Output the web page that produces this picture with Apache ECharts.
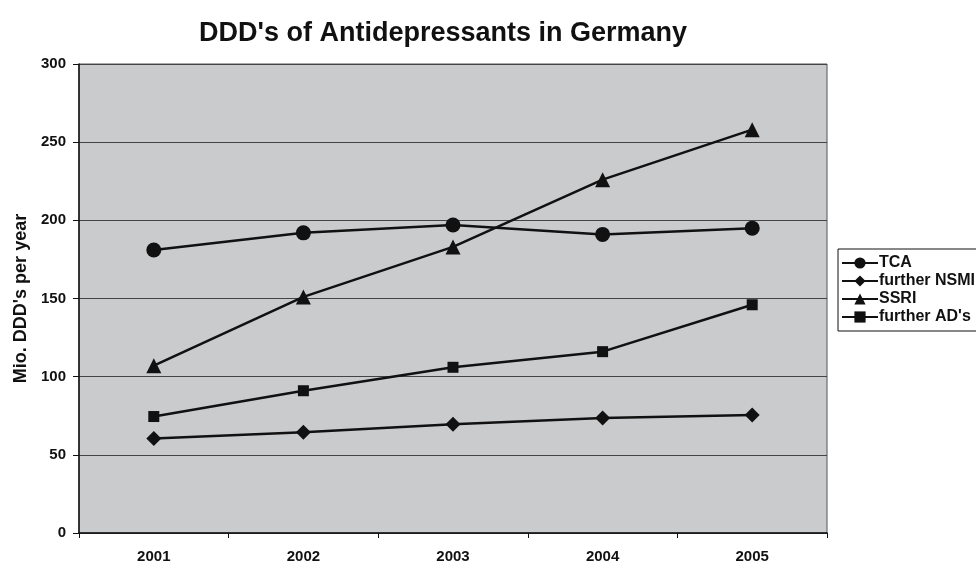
<!DOCTYPE html>
<html lang="en">
<head>
  <meta charset="UTF-8">
  <title>DDD's of Antidepressants in Germany</title>
  <script src="https://cdn.jsdelivr.net/npm/echarts@6/dist/echarts.min.js"></script>
  <style>
    html, body { margin: 0; padding: 0; background: #fff; }
    #container { width: 976px; height: 564px; }
  </style>
</head>
<body>
  <div id="container"></div>
  <script>
    const years = ['2001', '2002', '2003', '2004', '2005'];
    const tca = [181, 192, 197, 191, 195];
    const nsmi = [60.5, 64.5, 69.5, 73.5, 75.5];
    const ssri = [107, 151, 183, 226, 258];
    const furtherAD = [74.5, 91, 106, 116, 146];

    const chart = echarts.init(document.getElementById('container'));
    const font = 'Arial, "Liberation Sans", sans-serif';

    function line(name, data, symbol, size) {
      return {
        name: name,
        type: 'line',
        data: data,
        symbol: symbol,
        symbolSize: size,
        lineStyle: { color: '#111', width: 2.5 },
        itemStyle: { color: '#111' },
        animation: false,
      };
    }

    chart.setOption({
      backgroundColor: '#fff',
      title: {
        text: "DDD's of Antidepressants in Germany",
        left: 438,
        top: 15,
        textAlign: 'center',
        textStyle: { fontFamily: font, fontSize: 27, fontWeight: 'bold', color: '#111' },
      },
      legend: {
        orient: 'vertical',
        left: 838,
        top: 249,
        padding: [6, 40, 6, 3],
        itemGap: 2,
        itemWidth: 36,
        itemHeight: 14,
        borderColor: '#111',
        borderWidth: 1,
        data: ['TCA', 'further NSMI', 'SSRI', "further AD's"],
        textStyle: { fontFamily: font, fontSize: 16, fontWeight: 'bold', color: '#111', padding: [0, 0, 0, -4] },
      },
      grid: {
        left: 79,
        right: 149,
        top: 64,
        bottom: 31,
        show: true,
        backgroundColor: '#cacbcd',
        borderColor: '#555',
        borderWidth: 1,
      },
      xAxis: {
        type: 'category',
        data: years,
        boundaryGap: true,
        axisLine: { lineStyle: { color: '#111', width: 1.5 } },
        axisTick: { show: true, length: 5, lineStyle: { color: '#111' } },
        axisLabel: { margin: 16, fontFamily: font, fontSize: 15, fontWeight: 'bold', color: '#111' },
      },
      yAxis: {
        type: 'value',
        min: 0,
        max: 300,
        interval: 50,
        name: "Mio. DDD's per year",
        nameLocation: 'middle',
        nameGap: 45,
        nameTextStyle: { fontFamily: font, fontSize: 18, fontWeight: 'bold', color: '#111' },
        axisLine: { show: true, lineStyle: { color: '#111', width: 1.5 } },
        axisTick: { show: true, length: 6, lineStyle: { color: '#111' } },
        axisLabel: { margin: 13, fontFamily: font, fontSize: 15, fontWeight: 'bold', color: '#111' },
        splitLine: { show: true, lineStyle: { color: '#444', width: 1 } },
      },
      series: [
        line('TCA', tca, 'circle', 15),
        line('further NSMI', nsmi, 'diamond', 15),
        line('SSRI', ssri, 'triangle', 15),
        line("further AD's", furtherAD, 'rect', 11),
      ],
    });
  </script>
</body>
</html>
